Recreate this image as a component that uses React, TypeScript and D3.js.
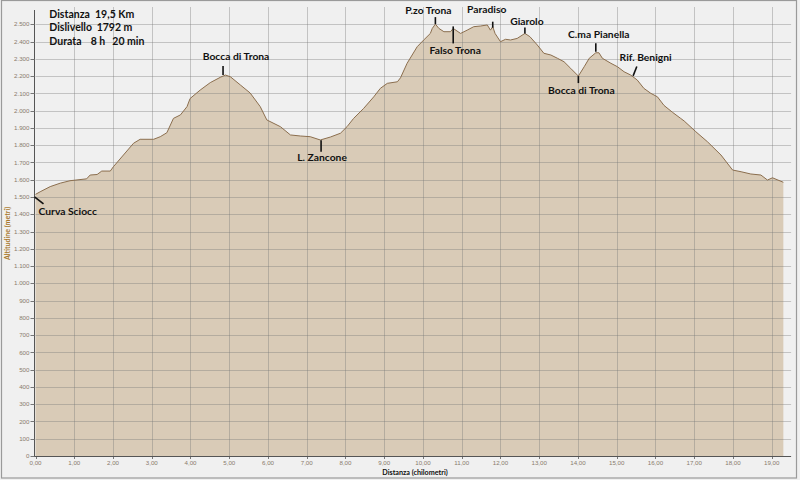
import React from 'react';
import * as d3 from 'd3';

// ---- data ----
const distKm = [
  0.0, 0.12, 0.38, 0.64, 0.89, 1.32, 1.41, 1.59, 1.71, 1.93, 2.01, 2.27, 2.53, 2.70, 3.05, 3.22,
  3.39, 3.56, 3.74, 3.91, 3.99, 4.25, 4.51, 4.77, 4.90, 5.03, 5.29, 5.54, 5.80, 5.97, 6.32, 6.58,
  6.84, 7.09, 7.35, 7.61, 7.87, 8.04, 8.21, 8.47, 8.73, 8.90, 9.08, 9.34, 9.42, 9.59, 9.85, 10.02,
  10.19, 10.24, 10.32, 10.41, 10.54, 10.71, 10.78, 10.97, 11.14, 11.31, 11.49, 11.66, 11.74, 11.80,
  11.86, 12.00, 12.13, 12.26, 12.43, 12.63, 12.76, 12.95, 13.12, 13.30, 13.47, 13.64, 13.81, 14.01,
  14.16, 14.29, 14.46, 14.54, 14.63, 14.85, 15.02, 15.19, 15.36, 15.53, 15.70, 15.88, 16.05, 16.22,
  16.44, 16.65, 16.74, 17.04, 17.34, 17.69, 17.99, 18.21, 18.46, 18.72, 18.89, 19.02, 19.16, 19.30
];
const elevM = [
  1515, 1530, 1560, 1580, 1594, 1605, 1627, 1630, 1650, 1650, 1675, 1743, 1811, 1834, 1834, 1849,
  1872, 1955, 1975, 2023, 2070, 2119, 2162, 2193, 2206, 2196, 2148, 2102, 2023, 1946, 1907, 1859,
  1853, 1849, 1830, 1847, 1869, 1907, 1955, 2013, 2080, 2129, 2158, 2167, 2190, 2274, 2370, 2409,
  2447, 2476, 2501, 2476, 2457, 2457, 2476, 2447, 2466, 2486, 2490, 2496, 2466, 2486,
  2447, 2399, 2413, 2409, 2418, 2447, 2428, 2380, 2332, 2322, 2303, 2283, 2245, 2200,
  2254, 2303, 2335, 2335, 2303, 2274, 2254, 2225, 2206, 2177, 2129, 2100, 2080, 2030,
  1990, 1955, 1940, 1878, 1820, 1743, 1656, 1646, 1633, 1627, 1598, 1611, 1598, 1585
];
const yTickValues = d3.range(0, 2600, 100);
const xTickValues = d3.range(0, 20, 1);
const infoLabels = ['Distanza', 'Dislivello', 'Durata'];
const infoValues = [['19,5 Km'], ['1792 m'], ['8 h', '20 min']];
const peakNames = [
  'Curva Sciocc', 'Bocca di Trona', 'L. Zancone', 'P.zo Trona', 'Falso Trona',
  'Paradiso', 'Giarolo', 'Bocca di Trona', 'C.ma Pianella', 'Rif. Benigni'
];
const peakKm = [0.0, 4.84, 7.37, 10.32, 10.78, 11.80, 12.63, 14.01, 14.46, 15.41];
const xTitle = 'Distanza (chilometri)';
const yTitle = 'Altitudine (metri)';

// ---- layout (positions / styles) ----
const W = 800;
const H = 480;
const X0 = 35.5;
const X1 = 791.1;
const Y0 = 456;
const Y1 = 7;
const peakLayout = [
  { tick: [-1, 2.6, 8, 9.6], label: [3, 17.3], anchor: 'start' },
  { tick: [0, -1, 0, -10], label: [13, -19.4], anchor: 'middle' },
  { tick: [0, 0.5, 0, 12], label: [1, 18], anchor: 'middle' },
  { tick: [0, 0, 0, -7], label: [-7, -14], anchor: 'middle' },
  { tick: [0, -2, 0, 15], label: [2, 21.6], anchor: 'middle' },
  { tick: [0, 1, 0, -5], label: [-6, -17.4], anchor: 'middle' },
  { tick: [0, 0, 0, -6], label: [2, -12.4], anchor: 'middle' },
  { tick: [0, 0, 0, 7], label: [3, 14], anchor: 'middle' },
  { tick: [0, -1, 0, -9.5], label: [3, -18.5], anchor: 'middle' },
  { tick: [0.5, -0.6, 4.2, -10], label: [13, -19.3], anchor: 'middle' },
];
const infoRowY = [14.7, 27, 41];
const infoValueX = [[95], [96.7], [90.7, 112.3]];

const locale = d3.formatLocale({ decimal: ',', thousands: '.', grouping: [3], currency: ['', '€'] });
const fmtY = locale.format(',d');
const fmtX = locale.format(',.2f');

export default function App() {
  const x = d3.scaleLinear().domain([0, 19.5]).range([X0, X1]);
  const y = d3.scaleLinear().domain([0, 2600]).range([Y0, Y1]);
  const pts = distKm.map((d, i) => [d, elevM[i]] as [number, number]);
  const area = d3.area<[number, number]>().x(p => x(p[0])).y0(y(0)).y1(p => y(p[1]))(pts) || '';
  const line = d3.line<[number, number]>().x(p => x(p[0])).y(p => y(p[1]))(pts) || '';
  const bis = d3.bisector((d: number) => d).left;
  const elevAt = (km: number) => {
    const i = bis(distKm, km);
    if (i <= 0) return elevM[0];
    if (i >= distKm.length) return elevM[elevM.length - 1];
    const t = (km - distKm[i - 1]) / (distKm[i] - distKm[i - 1]);
    return elevM[i - 1] + t * (elevM[i] - elevM[i - 1]);
  };
  const gridColor = 'rgba(120,120,120,0.38)';
  const tickColor = '#8a7b6c';
  const lblFont = 'Lato, "Open Sans", sans-serif';

  return (
    <svg width={W} height={H} style={{ position: 'absolute', left: 0, top: 0, display: 'block' }}
      xmlns="http://www.w3.org/2000/svg">
      <rect x={0} y={0} width={W} height={H} fill="#F0F0F0" />
      <rect x={1.5} y={0.5} width={795} height={477.5} fill="none" stroke="#9a9a9a" strokeWidth={1.2} />
      <path d={area} fill="#D9CBB7" />
      {yTickValues.filter(v => v > 0).map(v => (
        <line key={'gy' + v} x1={X0} x2={X1} y1={Math.round(y(v)) + 0.5} y2={Math.round(y(v)) + 0.5}
          stroke={gridColor} strokeWidth={1} />
      ))}
      {xTickValues.filter(v => v > 0).map(v => (
        <line key={'gx' + v} x1={Math.round(x(v)) + 0.5} x2={Math.round(x(v)) + 0.5} y1={Y1} y2={Y0}
          stroke={gridColor} strokeWidth={1} />
      ))}
      <path d={line} fill="none" stroke="#8B6E4E" strokeWidth={1} />
      {/* axes */}
      <line x1={X0 - 1} x2={X0 - 1} y1={Y1 + 3} y2={Y0 + 1} stroke="#555" strokeWidth={1} />
      <line x1={X0 - 1} x2={X1} y1={Y0 + 0.5} y2={Y0 + 0.5} stroke="#555" strokeWidth={1} />
      {yTickValues.map(v => (
        <g key={'ty' + v}>
          <line x1={X0 - 5} x2={X0 - 1} y1={Math.round(y(v)) + 0.5} y2={Math.round(y(v)) + 0.5} stroke="#777" />
          <text x={X0 - 6} y={y(v)} dy="0.35em" textAnchor="end" fontSize={6.2}
            fontFamily='"Liberation Sans", Arial, sans-serif' fill={tickColor}>{fmtY(v)}</text>
        </g>
      ))}
      {xTickValues.map(v => (
        <g key={'tx' + v}>
          <line x1={Math.round(x(v)) + 0.5} x2={Math.round(x(v)) + 0.5} y1={Y0 + 1} y2={Y0 + 3} stroke="#777" />
          <text x={x(v)} y={462.7} dy="0.35em" textAnchor="middle" fontSize={6.2}
            fontFamily='"Liberation Sans", Arial, sans-serif' fill={tickColor}>{fmtX(v)}</text>
        </g>
      ))}
      <text x={415} y={472.3} dy="0.35em" textAnchor="middle" fontSize={7.2} fontWeight="bold"
        fontFamily={lblFont} fill="#111">{xTitle}</text>
      <text transform={`translate(8,${(Y0 + Y1) / 2 + 2}) rotate(-90)`} textAnchor="middle" dy="0.35em"
        fontSize={7} fontWeight="bold" fontFamily={lblFont} fill="#A9792B">{yTitle}</text>
      {/* info */}
      {infoLabels.map((l, i) => (
        <g key={'info' + i}>
          <text x={49.3} y={infoRowY[i]} dy="0.35em" fontSize={10.5} fontWeight="bold" fontFamily={lblFont} fill="#111">{l}</text>
          {infoValues[i].map((v, j) => (
            <text key={j} x={infoValueX[i][j]} y={infoRowY[i]} dy="0.35em" fontSize={10.5} fontWeight="bold"
              fontFamily={lblFont} fill="#111">{v}</text>
          ))}
        </g>
      ))}
      {/* annotations */}
      {peakNames.map((n, i) => {
        const ax = x(peakKm[i]);
        const ay = y(elevAt(peakKm[i]));
        const L = peakLayout[i];
        return (
          <g key={'pk' + i}>
            <line x1={ax + L.tick[0]} y1={ay + L.tick[1]} x2={ax + L.tick[2]} y2={ay + L.tick[3]}
              stroke="#111" strokeWidth={1.6} />
            <text x={ax + L.label[0]} y={ay + L.label[1]} dy="0.35em" textAnchor={L.anchor as any}
              fontSize={10.3} fontWeight="bold" fontFamily={lblFont} fill="#111">{n}</text>
          </g>
        );
      })}
    </svg>
  );
}
